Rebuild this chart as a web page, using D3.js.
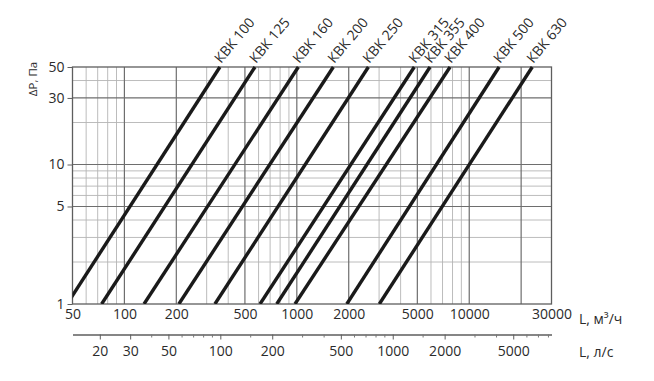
<!DOCTYPE html>
<html>
<head>
<meta charset="utf-8">
<script src="https://cdn.jsdelivr.net/npm/d3@7"></script>
<style>
    body { margin: 0; background: #fff; }
    svg { display: block; font-family: "Open Sans", sans-serif; }
</style>
</head>
<body>
<div id="chart"></div>
<script>
// series: L (m3/h) where each line is at dP = 1 Pa and dP = 50 Pa
const seriesNames = ["КВК 100", "КВК 125", "КВК 160", "КВК 200", "КВК 250",
    "КВК 315", "КВК 355", "КВК 400", "КВК 500", "КВК 630"];
const flowAtLow = [46.5, 73.8, 130, 207, 335, 612, 765, 976, 1950, 3010];
const flowAtHigh = [358, 572, 1020, 1628, 2600, 4800, 5925, 7740, 14900, 23200];
const pressureLow = 1;
const pressureHigh = 50;

const xTicks = [50, 100, 200, 500, 1000, 2000, 5000, 10000, 30000];
const xGridMajor = [100, 200, 500, 1000, 2000, 5000, 10000, 20000];
const xGridMinor = [60, 70, 80, 90, 300, 400, 600, 700, 800, 900,
    3000, 4000, 6000, 7000, 8000, 9000];
const yTicks = [1, 5, 10, 30, 50];
const yGridMajor = [5, 10, 30];
const yGridMinor = [2, 3, 4, 6, 7, 8, 9, 20, 40];
const lpsTicks = [20, 30, 50, 100, 200, 500, 1000, 2000, 5000];
const lpsMinor = [40, 60, 70, 80, 90, 150, 300, 400, 600, 700, 800, 900,
    1500, 3000, 4000, 6000, 7000, 8000];

const width = 654;
const height = 381;
const plot = {left: 72.5, right: 551.5, top: 67, bottom: 304};
const textColor = "#2b2b2b";

const x = d3.scaleLog()
    .domain([50, 30000])
    .range([plot.left, plot.right]);

const y = d3.scaleLog()
    .domain([1, 50])
    .range([plot.bottom, plot.top]);

// second flow axis in l/s, 1 l/s = 3.6 m3/h
const xLps = d3.scaleLog()
    .domain([50 / 3.6, 30000 / 3.6])
    .range([plot.left, plot.right]);

const svg = d3.select("#chart").append("svg")
    .attr("width", width)
    .attr("height", height)
    .attr("viewBox", [0, 0, width, height]);

svg.append("defs").append("clipPath")
    .attr("id", "plot-clip")
    .append("rect")
    .attr("x", plot.left)
    .attr("y", plot.top - 2)
    .attr("width", plot.right - plot.left)
    .attr("height", plot.bottom - plot.top + 2);

const grid = svg.append("g");

function vLines(values, color, w) {
    grid.append("g")
        .selectAll("line")
        .data(values)
        .join("line")
        .attr("x1", d => x(d))
        .attr("x2", d => x(d))
        .attr("y1", plot.top)
        .attr("y2", plot.bottom)
        .attr("stroke", color)
        .attr("stroke-width", w);
}

function hLines(values, color, w) {
    grid.append("g")
        .selectAll("line")
        .data(values)
        .join("line")
        .attr("x1", plot.left)
        .attr("x2", plot.right)
        .attr("y1", d => y(d))
        .attr("y2", d => y(d))
        .attr("stroke", color)
        .attr("stroke-width", w);
}

vLines(xGridMinor, "#b4b4b4", 0.9);
hLines(yGridMinor, "#b4b4b4", 0.9);
vLines(xGridMajor, "#6e6e6e", 1.2);
hLines(yGridMajor, "#6e6e6e", 1.2);

grid.append("rect")
    .attr("x", plot.left)
    .attr("y", plot.top)
    .attr("width", plot.right - plot.left)
    .attr("height", plot.bottom - plot.top)
    .attr("fill", "none")
    .attr("stroke", "#5e5e5e")
    .attr("stroke-width", 1.3);

// y axis
const yAxis = g => g
    .attr("transform", `translate(${plot.left},0)`)
    .call(d3.axisLeft(y).tickValues(yTicks).tickFormat(d3.format("d"))
        .tickSize(5).tickPadding(3))
    .call(g => g.select(".domain").remove())
    .call(g => g.selectAll(".tick line").attr("stroke", "#5e5e5e"))
    .call(g => g.selectAll(".tick text")
        .attr("fill", textColor)
        .attr("font-size", 14)
        .attr("font-family", "Open Sans"));

svg.append("g").call(yAxis);

// top flow axis labels (m3/h)
const xAxis = g => g
    .attr("transform", `translate(0,${plot.bottom})`)
    .call(d3.axisBottom(x).tickValues(xTicks).tickFormat(d3.format("d"))
        .tickSize(0).tickPadding(5))
    .call(g => g.select(".domain").remove())
    .call(g => g.selectAll(".tick text")
        .attr("fill", textColor)
        .attr("font-size", 14)
        .attr("font-family", "Open Sans"));

svg.append("g").call(xAxis);

// second flow axis (l/s)
const lpsAxis = g => g
    .attr("transform", `translate(0,334.5)`)
    .call(d3.axisBottom(xLps).tickValues(lpsTicks).tickFormat(d3.format("d"))
        .tickSize(5).tickSizeOuter(0).tickPadding(7))
    .call(g => g.select(".domain")
        .attr("stroke", "#5e5e5e")
        .attr("stroke-width", 1.3))
    .call(g => g.selectAll(".tick line").attr("stroke", "#5e5e5e"))
    .call(g => g.selectAll(".tick text")
        .attr("fill", textColor)
        .attr("font-size", 14)
        .attr("font-family", "Open Sans"));

svg.append("g").call(lpsAxis);

svg.append("g")
    .attr("transform", `translate(0,334.5)`)
    .selectAll("line")
    .data(lpsMinor)
    .join("line")
    .attr("x1", d => xLps(d))
    .attr("x2", d => xLps(d))
    .attr("y1", 0)
    .attr("y2", 3)
    .attr("stroke", "#777");

svg.append("text")
    .attr("x", 579)
    .attr("y", 324)
    .attr("fill", textColor)
    .attr("font-size", 14)
    .text("L, м³/ч");

svg.append("text")
    .attr("x", 579)
    .attr("y", 357)
    .attr("fill", textColor)
    .attr("font-size", 14)
    .text("L, л/с");

svg.append("text")
    .attr("transform", "translate(37,79) rotate(-90)")
    .attr("text-anchor", "middle")
    .attr("fill", textColor)
    .attr("font-size", 11.5)
    .text("ΔP, Па");

// characteristic lines
const data = seriesNames.map((name, i) => ({
    name,
    points: [[flowAtLow[i], pressureLow], [flowAtHigh[i], pressureHigh]]
}));

const line = d3.line()
    .x(d => x(d[0]))
    .y(d => y(d[1]));

svg.append("g")
    .attr("clip-path", "url(#plot-clip)")
    .selectAll("path")
    .data(data)
    .join("path")
    .attr("d", d => line(d.points))
    .attr("fill", "none")
    .attr("stroke", "#1a1a1a")
    .attr("stroke-width", 3.4);

svg.append("g")
    .selectAll("text")
    .data(data)
    .join("text")
    .attr("transform", d => `translate(${x(d.points[1][0]) + 1},${y(d.points[1][1]) - 3}) rotate(-50)`)
    .attr("fill", textColor)
    .attr("font-size", 14)
    .text(d => d.name);
</script>
</body>
</html>
